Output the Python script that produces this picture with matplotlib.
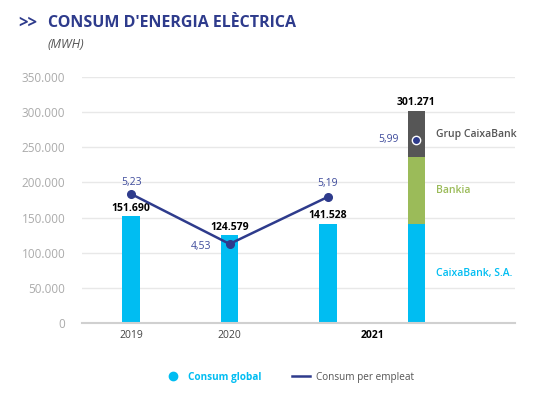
import numpy as np
import matplotlib.pyplot as plt
from matplotlib.lines import Line2D

plt.rcParams['font.family'] = ['Open Sans', 'DejaVu Sans']

# ---- data ----
years = ["2019", "2020", "2021"]
consum_global = [151690, 124579, 141528]
per_empleat = [5.23, 4.53, 5.19]

# 2021 group breakdown (stacked bar)
seg_names = ["CaixaBank, S.A.", "Bankia", "Grup CaixaBank"]
seg_values = [141528, 94500, 65243]
grup_total = 301271
grup_per_empleat = 5.99

yticks = [0, 50000, 100000, 150000, 200000, 250000, 300000, 350000]

# ---- style ----
CYAN = "#00BDF2"
GREEN = "#9BBB59"
DARK = "#565656"
NAVY = "#2E3B8C"
LBL = "#3D4A9B"
GRID = "#E8E8E8"
TICK = "#ABABAB"
SEG_COLORS = [CYAN, GREEN, DARK]

def fmt(v):
    return f"{v:,.0f}".replace(",", ".")

def fmt_dec(v):
    return f"{v:.2f}".replace(".", ",")

fig = plt.figure(figsize=(5.56, 3.97), dpi=100)
ax = fig.add_axes([0.1475, 0.1864, 0.7785, 0.6197])

x = np.arange(len(years))
xs = 2.9  # stacked bar position
w = 0.18

ax.bar(x, consum_global, width=w, color=CYAN, zorder=2)
bottom = 0
for name, v, c in zip(seg_names, seg_values, SEG_COLORS):
    ax.bar(xs, v, width=w, bottom=bottom, color=c, zorder=2)
    bottom += v

# value labels
for xi, v in zip(x, consum_global):
    ax.annotate(fmt(v), (xi, v), xytext=(0, 2), textcoords="offset points",
                ha="center", va="bottom", fontsize=7.5, fontweight="bold",
                color="black")
ax.annotate(fmt(grup_total), (xs, grup_total), xytext=(0, 2),
            textcoords="offset points", ha="center", va="bottom", fontsize=7.5,
            fontweight="bold", color="black")

# segment labels to the right of the stacked bar
bottom = 0
for name, v, c in zip(seg_names, seg_values, SEG_COLORS):
    ax.text(xs + 0.2, bottom + v / 2, name, ha="left", va="center",
            fontsize=7.5, fontweight="semibold", color=c)
    bottom += v

ax.set_xlim(-0.5, 3.9)
ax.set_ylim(0, 350000)
ax.set_yticks(yticks)
ax.set_yticklabels([fmt(t) for t in yticks], color=TICK, fontsize=8.5)
ax.set_xticks([0, 1, (2 + xs) / 2])
ax.set_xticklabels(years, fontsize=7.5, color="#444444")
ax.get_xticklabels()[2].set_fontweight("bold")
ax.get_xticklabels()[2].set_color("black")
ax.tick_params(axis="both", length=0)
ax.tick_params(axis="y", pad=12)
ax.tick_params(axis="x", pad=5)
ax.grid(axis="y", color=GRID, lw=1, zorder=0)
for sp in ["top", "right", "left"]:
    ax.spines[sp].set_visible(False)
ax.spines["bottom"].set_color("#D0D0D0")
ax.spines["bottom"].set_linewidth(1.5)

# secondary scale for consum per empleat
ax2 = ax.twinx()
ax2.set_ylim(3.423, 6.869)
ax2.axis("off")
ax2.plot(x, per_empleat, color=NAVY, lw=1.8, marker="o", ms=5.5, zorder=3)
ax2.plot([xs], [grup_per_empleat], marker="o", ms=6, color=NAVY,
         markeredgecolor="white", markeredgewidth=1, ls="none", zorder=4)
offs = [(0, 8.5, "center"), (-13, -2, "right"), (0, 9.5, "center")]
for xi, v, (dx, dy, ha) in zip(x, per_empleat, offs):
    ax2.annotate(fmt_dec(v), (xi, v), xytext=(dx, dy), textcoords="offset points",
                 ha=ha, va="center", fontsize=7.5, color=LBL)
ax2.annotate(fmt_dec(grup_per_empleat), (xs, grup_per_empleat), xytext=(-13, 0),
             textcoords="offset points", ha="right", va="center", fontsize=7.5,
             color=LBL)

# title
fig.text(0.032, 0.943, ">>", fontsize=12, fontweight="bold", color=NAVY,
         ha="left", va="center")
fig.text(0.086, 0.943, "CONSUM D'ENERGIA ELÈCTRICA", fontsize=11.5,
         fontweight="bold", color=NAVY, ha="left", va="center")
fig.text(0.086, 0.888, "(MWH)", fontsize=9, fontstyle="italic", color="#555555",
         ha="left", va="center")

# legend
handles = [
    Line2D([], [], marker="o", ls="none", color=CYAN, ms=6),
    Line2D([], [], color=NAVY, lw=1.8),
]
leg = fig.legend(handles, ["Consum global", "Consum per empleat"], ncol=2,
                 loc="center", bbox_to_anchor=(0.52, 0.05), frameon=False,
                 fontsize=7.2, handlelength=1.8, columnspacing=3.0,
                 handletextpad=0.6)
texts = leg.get_texts()
texts[0].set_color(CYAN)
texts[0].set_fontweight("bold")
texts[1].set_color("#555555")

fig.savefig("out.png", dpi=100)
